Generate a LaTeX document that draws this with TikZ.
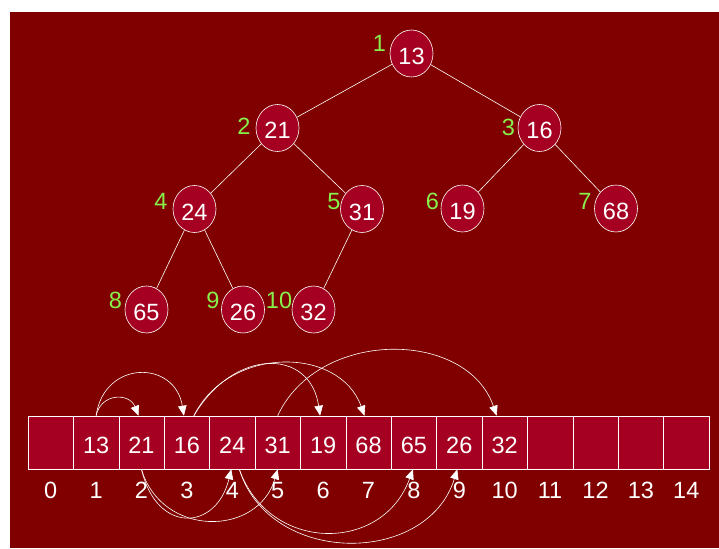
\documentclass[tikz,border=0pt]{standalone}
\usepackage{fontspec}
\setmainfont{Liberation Sans}
\usetikzlibrary{shapes.geometric,arrows.meta}
\definecolor{bgred}{RGB}{128,0,0}
\definecolor{nodered}{RGB}{165,0,33}
\definecolor{lblgreen}{RGB}{135,240,75}
\begin{document}
\begin{tikzpicture}[x=1pt,y=-1pt,
  bigfont/.style={font=\fontsize{23.5}{27}\selectfont},
  tnode/.style={ellipse,draw=white,fill=nodered,line width=0.6pt,minimum width=43pt,minimum height=47pt,inner sep=0pt,text=white,bigfont,text height=22pt,text depth=0pt},
  poslbl/.style={text=lblgreen,bigfont,inner sep=0pt,text height=17pt,text depth=0pt},
  idxlbl/.style={text=white,bigfont,inner sep=0pt,text height=17pt,text depth=0pt},
  treeline/.style={draw=white,line width=0.6pt},
  cell/.style={rectangle,draw=white,fill=nodered,line width=0.6pt,minimum width=45.4pt,minimum height=53pt,inner sep=0pt,text=white,bigfont,text height=22pt,text depth=0pt},
  arr/.style={draw=white,line width=0.6pt,-{Triangle[length=10pt,width=8.5pt]}}
]
\useasboundingbox (0,0) rectangle (719,548);
\fill[bgred] (10,12) rectangle (719,548);

% tree nodes
\node[tnode] (t1) at (411.5,53.5) {13};
\node[tnode] (t2) at (277.5,128) {21};
\node[tnode] (t3) at (539.5,128) {16};
\node[tnode] (t4) at (194.5,209) {24};
\node[tnode] (t5) at (362,209) {31};
\node[tnode] (t6) at (462.5,208.5) {19};
\node[tnode] (t7) at (616,208.5) {68};
\node[tnode] (t8) at (146.5,309.5) {65};
\node[tnode] (t9) at (243,309.5) {26};
\node[tnode] (t10) at (313.5,309.5) {32};

% tree edges
\draw[treeline] (t1) -- (t2);
\draw[treeline] (t1) -- (t3);
\draw[treeline] (t2) -- (t4);
\draw[treeline] (t2) -- (t5);
\draw[treeline] (t3) -- (t6);
\draw[treeline] (t3) -- (t7);
\draw[treeline] (t4) -- (t8);
\draw[treeline] (t4) -- (t9);
\draw[treeline] (t5) -- (t10);

% position labels
\node[poslbl] (p1) at (379.5,43.5) {1};
\node[poslbl] (p2) at (244,126.5) {2};
\node[poslbl] (p3) at (508.5,127) {3};
\node[poslbl] (p4) at (161,201) {4};
\node[poslbl] (p5) at (334,200.5) {5};
\node[poslbl] (p6) at (432.5,200.5) {6};
\node[poslbl] (p7) at (585,200.5) {7};
\node[poslbl] (p8) at (115.5,300) {8};
\node[poslbl] (p9) at (213,300) {9};
\node[poslbl] (p10) at (279,300) {10};

% array
\foreach \i/\v in {0/{},1/13,2/21,3/16,4/24,5/31,6/19,7/68,8/65,9/26,10/32,11/{},12/{},13/{},14/{}}{
  \node[cell] (c\i) at ({28+45.4*(\i+0.5)},442.5) {\v};
  \node[idxlbl] (n\i) at ({28+45.4*(\i+0.5)},490) {\i};
}

% arrows above
\draw[arr] (c1.north) .. controls +(5,-23) and +(-9,-23) .. ([xshift=-3pt]c2.north);
\draw[arr] (c1.north) .. controls +(8,-56) and +(-9,-56) .. ([xshift=-3pt]c3.north);
\draw[arr] ([xshift=7pt]c3.north) .. controls +(40,-68) and +(-10,-68) .. ([xshift=-3pt]c6.north);
\draw[arr] ([xshift=7pt]c3.north) .. controls +(35,-70) and +(-25,-70) .. ([xshift=-4pt]c7.north);
\draw[arr] (c5.north) .. controls +(40,-87) and +(-30,-87) .. ([xshift=-8pt]c10.north);

% arrows below
\draw[arr] (c2.south) .. controls +(15,65) and +(-15,62) .. ([xshift=-1pt]c4.south);
\draw[arr] (c2.south) .. controls +(20,68) and +(-20,68) .. (c5.south);
\draw[arr] ([xshift=7pt]c4.south) .. controls +(30,84) and +(-30,84) .. ([xshift=-1pt]c8.south);
\draw[arr] ([xshift=7pt]c4.south) .. controls +(30,97) and +(-30,97) .. ([xshift=-2pt]c9.south);
\end{tikzpicture}
\end{document}
